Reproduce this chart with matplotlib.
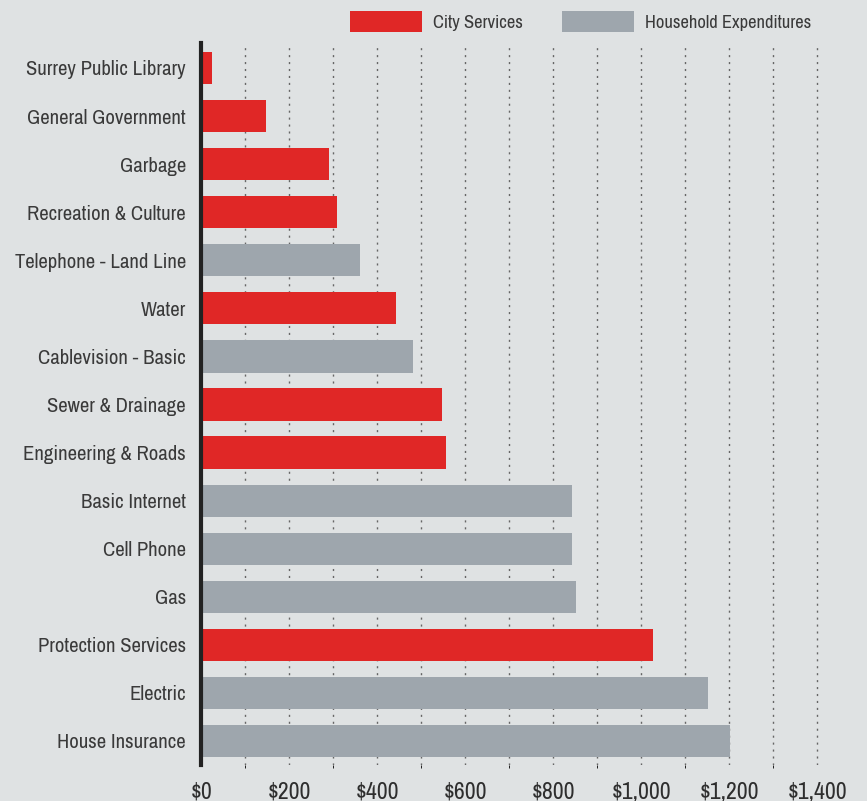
import matplotlib
matplotlib.use('Agg')
import matplotlib.pyplot as plt
from matplotlib import font_manager
from matplotlib.font_manager import FontProperties
from matplotlib.textpath import TextToPath
from matplotlib.patches import Patch
from matplotlib.ticker import FuncFormatter, MultipleLocator

# annual cost per household (top to bottom)
categories = ['Surrey Public Library', 'General Government', 'Garbage',
              'Recreation & Culture', 'Telephone - Land Line', 'Water',
              'Cablevision - Basic', 'Sewer & Drainage', 'Engineering & Roads',
              'Basic Internet', 'Cell Phone', 'Gas', 'Protection Services',
              'Electric', 'House Insurance']
values = [24, 147, 290, 309, 361, 443, 480, 548, 557,
          842, 842, 851, 1026, 1151, 1201]
groups = ['city', 'city', 'city', 'city', 'house', 'city', 'house', 'city', 'city',
          'house', 'house', 'house', 'city', 'house', 'house']
group_labels = {'city': 'City Services', 'house': 'Household Expenditures'}
x_ticks = [0, 200, 400, 600, 800, 1000, 1200, 1400]

BG = '#dfe2e3'
colors = {'city': '#e02726', 'house': '#9ea6ad'}
TXT = '#3a3a3a'

# pick a narrow face if there is one
names = sorted({f.name for f in font_manager.fontManager.ttflist})
narrow = [n for n in names if 'Condensed' in n or 'Narrow' in n]
family = narrow[0] if narrow else 'Roboto'
if family not in names:
    family = 'DejaVu Sans'
plt.rcParams['font.family'] = [family, 'DejaVu Sans']

t2p = TextToPath()


def fit_size(s, target_px):
    # font size (pt) at which s is target_px wide at 100 dpi
    prop = FontProperties(family=family, size=10)
    w, h, d = t2p.get_text_width_height_descent(s, prop, ismath=False)
    return 10 * target_px / (w * 100 / 72)


ylab_fs = fit_size('Surrey Public Library', 159)
xlab_fs = ylab_fs * 1.15
leg_fs = fit_size('Household Expenditures', 166)

fig = plt.figure(figsize=(8.67, 8.01), dpi=100, facecolor=BG)
W, H = 867, 801
ax = fig.add_axes([201.3 / W, 1 - 765 / H, (1450 * 0.44) / W, (765 - 43) / H])
ax.set_facecolor(BG)

ypos = list(range(len(categories)))
ax.barh(ypos, values, height=0.67, color=[colors[g] for g in groups], zorder=2)

ax.set_ylim(14.5, -0.52)
ax.set_xlim(0, 1450)
ax.set_yticks(ypos)
ax.set_yticklabels(categories, fontsize=ylab_fs, color=TXT)
ax.set_xticks(x_ticks)
ax.xaxis.set_major_formatter(FuncFormatter(lambda v, p: f'${v:,.0f}'))
ax.tick_params(axis='x', length=0, pad=12, labelsize=xlab_fs, labelcolor='#2e2e2e')
ax.tick_params(axis='y', length=0, pad=11)

# dotted grid every $100
ax.xaxis.set_minor_locator(MultipleLocator(100))
ax.grid(axis='x', which='both', linestyle=(0, (1.5, 3.5)), linewidth=1.0,
        color='#666666', zorder=1)

for s in ['top', 'right', 'bottom']:
    ax.spines[s].set_visible(False)
ax.spines['left'].set_linewidth(3)
ax.spines['left'].set_color('#222222')
ax.spines['left'].set_zorder(3)

handles = [Patch(facecolor=colors[k], edgecolor='none', label=group_labels[k])
           for k in ['city', 'house']]
fs_px = leg_fs * 100 / 72
fig.legend(handles=handles, loc='center left', bbox_to_anchor=(350 / W, 1 - 21.5 / H),
           ncol=2, frameon=False, fontsize=leg_fs, labelcolor=TXT,
           handlelength=72 / fs_px, handleheight=25 / fs_px,
           handletextpad=11 / fs_px, columnspacing=39 / fs_px, borderpad=0,
           borderaxespad=0)

fig.savefig('out.png', dpi=100, facecolor=BG)
